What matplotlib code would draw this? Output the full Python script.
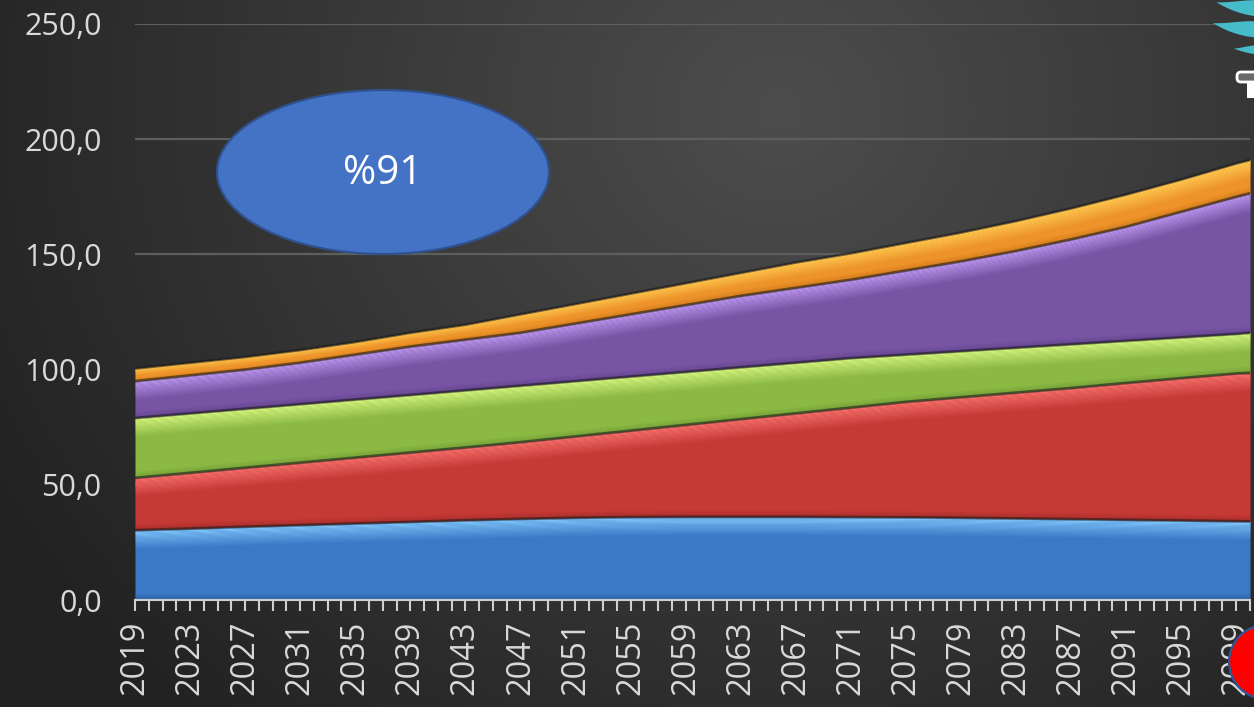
import numpy as np
import matplotlib.pyplot as plt
from matplotlib import patches
from matplotlib.colors import to_rgb

plt.rcParams['font.family'] = ['Open Sans', 'DejaVu Sans']

# stacked layers, values per year
years = [2019, 2023, 2027, 2031, 2035, 2039, 2043, 2047, 2051, 2055, 2059,
         2063, 2067, 2071, 2075, 2079, 2083, 2087, 2091, 2095, 2099, 2100]
blue = [30.3, 31.0, 31.8, 32.5, 33.2, 33.9, 34.6, 35.2, 35.7, 36.0, 36.1,
        36.1, 36.1, 36.0, 35.9, 35.7, 35.4, 35.1, 34.8, 34.5, 34.2, 34.1]
red = [22.7, 24.2, 25.6, 27.1, 28.6, 30.1, 31.6, 33.3, 35.3, 37.5, 39.9,
       42.4, 44.9, 47.5, 50.1, 52.3, 54.6, 56.9, 59.4, 61.8, 64.1, 64.5]
green = [26.0, 25.8, 25.6, 25.4, 25.2, 25.0, 24.8, 24.5, 24.0, 23.5, 23.0,
         22.5, 22.0, 21.5, 20.5, 20.0, 19.5, 19.0, 18.3, 17.7, 17.2, 17.4]
purple = [16.0, 16.5, 17.0, 18.0, 19.5, 21.0, 22.0, 23.0, 25.0, 27.0, 29.0,
          31.0, 32.5, 34.0, 36.5, 39.0, 42.0, 45.5, 49.5, 54.5, 59.5, 60.5]
orange = [5.5, 5.5, 5.5, 5.5, 5.5, 6.0, 6.5, 8.0, 8.5, 9.0, 9.5,
          10.0, 11.0, 11.5, 12.0, 12.5, 13.0, 13.5, 14.0, 14.0, 14.5, 14.5]

labelled_years = list(range(2019, 2100, 4))
y_ticks = [0, 50, 100, 150, 200, 250]
badge_text = '%91'

layers = [
    (blue,   '#3b79c6', '#86ccff', '#2a5c99'),
    (red,    '#c63a36', '#fa7470', '#982825'),
    (green,  '#8bb944', '#dcfa84', '#6a9230'),
    (purple, '#7855a4', '#c19cf5', '#5a3d84'),
    (orange, '#ee9329', '#ffcf55', '#c06e18'),
]

W, H = 1254, 707
fig = plt.figure(figsize=(W / 100, H / 100), dpi=100)

# dark radial backdrop
bg = fig.add_axes([0, 0, 1, 1], zorder=0)
yy, xx = np.mgrid[0:H, 0:W]
dist = np.sqrt((xx - 780) ** 2 + ((yy - 110) / 0.9) ** 2)
t = np.clip(dist / 900, 0, 1)[..., None]
c_in = np.array(to_rgb('#4d4d4d'))
c_out = np.array(to_rgb('#222222'))
bg.imshow(c_in * (1 - t) + c_out * t, aspect='auto', extent=(0, W, H, 0))
bg.set_axis_off()

ax = fig.add_axes([135 / W, (H - 600) / H, 1115 / W, 576 / H], zorder=1)
ax.set_facecolor('none')

x = np.array(years, dtype=float)
base = np.zeros_like(x)
for vals, col, light, dark in layers:
    top = base + np.array(vals)
    thick = top - base
    ax.fill_between(x, base, top, color=col, lw=0, zorder=2)
    # bevel: bright rim along the top, shade along the bottom
    d = np.minimum(8.0, 0.55 * thick)
    n = 16
    for k in range(n):
        ax.fill_between(x, top - d * (k + 1) / n, top - d * k / n,
                        color=light, alpha=0.95 * (1 - k / n) ** 1.1,
                        lw=0, zorder=3)
    s = np.minimum(3.0, 0.3 * thick)
    for k in range(n):
        ax.fill_between(x, base + s * k / n, base + s * (k + 1) / n,
                        color=dark, alpha=0.7 * (1 - k / n),
                        lw=0, zorder=3)
    ax.plot(x, top, color='#1c1c1c', lw=2.0, alpha=0.6, zorder=4)
    base = top

ax.set_xlim(2019, 2100)
ax.set_ylim(0, 250)
ax.set_yticks(y_ticks)
ax.set_yticklabels([f'{v:.1f}'.replace('.', ',') for v in y_ticks])
ax.yaxis.grid(True, color='#5e5e5e', lw=1.6, zorder=1)
ax.set_axisbelow(True)

all_years = list(range(2019, 2101))
ax.set_xticks(all_years)
ax.set_xticklabels([str(yr) if yr in labelled_years else '' for yr in all_years],
                   rotation=90, va='top', ha='center')

ax.tick_params(axis='y', length=0, pad=24, labelsize=22, labelcolor='#d9d9d9')
ax.tick_params(axis='x', direction='out', length=8, width=1.5, color='#cfcfcf',
               pad=7, labelsize=23.5, labelcolor='#d9d9d9')
for side in ['top', 'right', 'left']:
    ax.spines[side].set_visible(False)
ax.spines['bottom'].set_color('#cfcfcf')
ax.spines['bottom'].set_linewidth(1.5)
ax.spines['bottom'].set_zorder(5)

# overlay in pixel units for the badge and corner marks
ov = fig.add_axes([0, 0, 1, 1], zorder=5)
ov.set_xlim(0, W)
ov.set_ylim(H, 0)
ov.set_axis_off()
ov.patch.set_alpha(0)

ov.add_patch(patches.Ellipse((383, 172), 332, 164, facecolor='#4472c4',
                             edgecolor='#2f528f', lw=1.6))
ov.text(383, 174, badge_text, color='white', fontsize=29,
        ha='center', va='center')


def crescent(cx, cy, r, th_a, th_b, wmax):
    th = np.radians(np.linspace(th_a, th_b, 60))
    w = wmax * np.sin(np.pi * (th - th[0]) / (th[-1] - th[0]))
    outer = np.c_[cx + r * np.cos(th), cy + r * np.sin(th)]
    inner = np.c_[cx + (r - w) * np.cos(th), cy + (r - w) * np.sin(th)]
    return patches.Polygon(np.vstack([outer, inner[::-1]]), closed=True,
                           facecolor='#45bcc8', lw=0)


ov.add_patch(crescent(1268, -80, 97, 70, 122, 16))
ov.add_patch(crescent(1265, -60, 98, 70, 122, 16))
ov.add_patch(crescent(1268, -40, 95, 75, 111, 10))

ov.add_patch(patches.FancyBboxPatch((1237, 72), 40, 10,
                                    boxstyle='round,pad=0,rounding_size=4',
                                    facecolor='#6a6a6a', edgecolor='white', lw=2))
ov.add_patch(patches.Rectangle((1247, 82), 12, 16, facecolor='white', lw=0))

ov.add_patch(patches.Circle((1266, 662), 37, facecolor='#ff0000',
                            edgecolor='#2f5597', lw=1.6))

fig.savefig('out.png', dpi=100)
